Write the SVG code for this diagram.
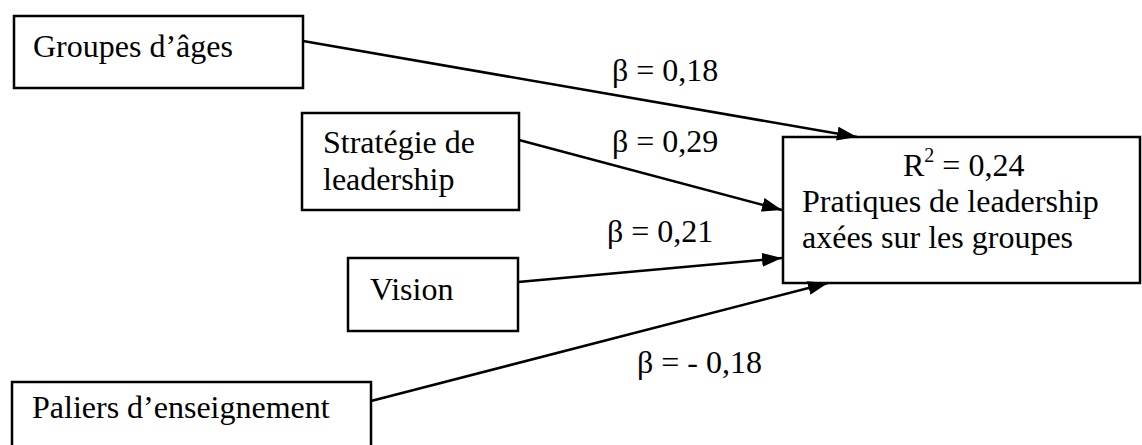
<svg xmlns="http://www.w3.org/2000/svg" width="1142" height="445" viewBox="0 0 1142 445">
<style>
.box{fill:#fff;stroke:#000;stroke-width:2.5}
.t{font-family:"Liberation Serif","Times New Roman",serif;font-size:32px;fill:#000}
.c{fill:none;stroke:#000;stroke-width:2.5}
</style>
<defs>
<marker id="ah" viewBox="0 0 20 14" refX="20" refY="7" markerWidth="20" markerHeight="14" markerUnits="userSpaceOnUse" orient="auto">
<path d="M0,0 L20,7 L0,14 Z" fill="#000"/>
</marker>
</defs>
<rect width="1142" height="445" fill="#fff"/>
<g id="n-groupes">
<rect class="box" x="14" y="16" width="289" height="72"/>
<text class="t" x="33" y="57">Groupes d’âges</text>
</g>
<g id="n-strategie">
<rect class="box" x="302" y="113" width="217" height="97"/>
<text class="t" x="323" y="153">Stratégie de</text>
<text class="t" x="323" y="190">leadership</text>
</g>
<g id="n-vision">
<rect class="box" x="348" y="258" width="170" height="73"/>
<text class="t" x="370" y="300">Vision</text>
</g>
<g id="n-paliers">
<rect class="box" x="12" y="382" width="359" height="80"/>
<text class="t" x="32" y="418">Paliers d’enseignement</text>
</g>
<g id="n-pratiques">
<rect class="box" x="783" y="137" width="357" height="146"/>
<text class="t" x="903" y="176">R<tspan font-size="20" dy="-14">2</tspan><tspan dy="14"> = 0,24</tspan></text>
<text class="t" x="802" y="212">Pratiques de leadership</text>
<text class="t" x="802" y="248">axées sur les groupes</text>
</g>
<g id="connectors">
<line class="c" x1="303" y1="41" x2="857" y2="137" marker-end="url(#ah)"/>
<line class="c" x1="519" y1="140" x2="782" y2="210" marker-end="url(#ah)"/>
<line class="c" x1="518" y1="282" x2="782" y2="258" marker-end="url(#ah)"/>
<line class="c" x1="371" y1="401" x2="828" y2="283" marker-end="url(#ah)"/>
<text class="t" x="612" y="81">β = 0,18</text>
<text class="t" x="612" y="152">β = 0,29</text>
<text class="t" x="607" y="242">β = 0,21</text>
<text class="t" x="637" y="373">β = - 0,18</text>
</g>
</svg>
